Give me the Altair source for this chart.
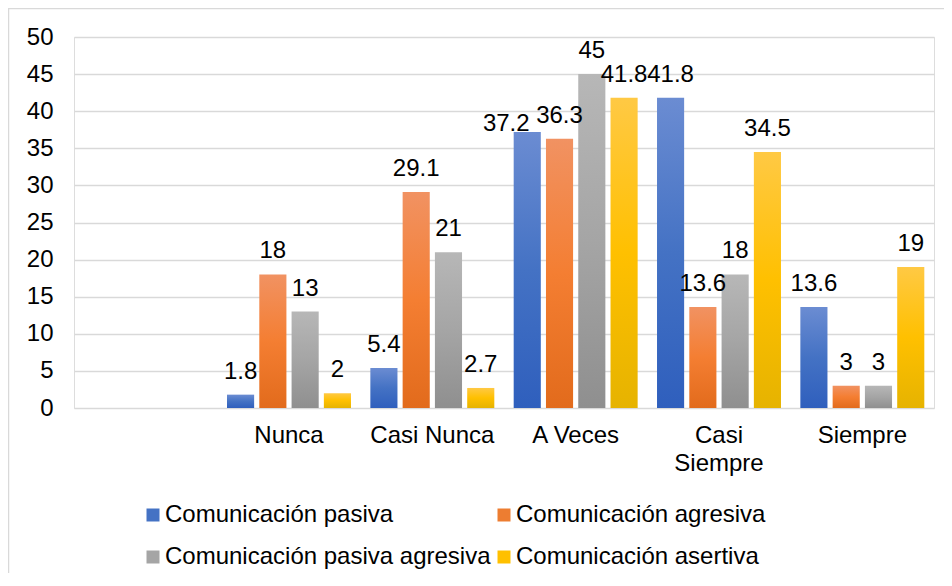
import altair as alt
import pandas as pd

categories = [" ", "Nunca", "Casi Nunca", "A Veces", "Casi Siempre", "Siempre"]
series = ["Comunicación pasiva", "Comunicación agresiva",
          "Comunicación pasiva agresiva", "Comunicación asertiva"]
pasiva = [1.8, 5.4, 37.2, 41.8, 13.6]
agresiva = [18, 29.1, 36.3, 13.6, 3]
pasiva_agresiva = [13, 21, 45, 18, 3]
asertiva = [2, 2.7, 41.8, 34.5, 19]

values = [pasiva, agresiva, pasiva_agresiva, asertiva]
rows = []
for s, vals in zip(series, values):
    for c, v in zip(categories[1:], vals):
        rows.append({"cat": c, "serie": s, "valor": v, "lab": f"{v:g}"})
df = pd.DataFrame(rows)

solid = ["#4472c4", "#ed7d31", "#a5a5a5", "#ffc000"]
grads = [
    ("#6b8cd2", "#4472c4", "#2f5fbd"),
    ("#f19262", "#f47e32", "#e26b1c"),
    ("#b7b7b7", "#a5a5a5", "#8f8f8f"),
    ("#ffc944", "#ffc000", "#e6b300"),
]

FONT = "Liberation Sans"
FS = 24

x_enc = alt.X("cat:N", scale=alt.Scale(domain=categories, paddingInner=0, paddingOuter=0),
              sort=categories, title=None,
              axis=alt.Axis(labelFontSize=FS, labelFont=FONT, labelColor="black",
                            labelAngle=0, ticks=False, domain=False, labelPadding=15,
                            labelLineHeight=28,
                            labelExpr="datum.label == 'Casi Siempre' ? ['Casi', 'Siempre'] : datum.label"))
xo_enc = alt.XOffset("serie:N", scale=alt.Scale(domain=series, paddingInner=0.16, paddingOuter=0.3))
y_enc = alt.Y("valor:Q", scale=alt.Scale(domain=[0, 50], nice=False), title=None,
              axis=alt.Axis(values=list(range(0, 51, 5)), labelFontSize=FS, labelFont=FONT,
                            labelColor="black", ticks=False, domain=False, labelPadding=21,
                            gridColor="#d9d9d9", gridWidth=1.5))

base = alt.Chart(df).encode(x=x_enc, xOffset=xo_enc, y=y_enc)

layers = []
for s, g in zip(series, grads):
    grad = alt.LinearGradient(
        gradient="linear", x1=0, x2=0, y1=0, y2=1,
        stops=[alt.GradientStop(color=g[0], offset=0),
               alt.GradientStop(color=g[1], offset=0.5),
               alt.GradientStop(color=g[2], offset=1)])
    layers.append(base.transform_filter(alt.datum.serie == s).mark_bar(color=grad))

# label of "A Veces / pasiva" is nudged left and down (as in the reference) to avoid overlap
moved = (alt.datum.cat == "A Veces") & (alt.datum.serie == series[0])
text = base.transform_filter(~moved).mark_text(
    baseline="alphabetic", dy=-16, fontSize=FS, font=FONT, color="black").encode(text="lab:N")
text_moved = base.transform_filter(moved).mark_text(
    baseline="alphabetic", dx=-21, dy=-1, fontSize=FS, font=FONT, color="black").encode(text="lab:N")

legend_layer = base.mark_point(shape="square", filled=True, opacity=0).encode(
    color=alt.Color("serie:N", scale=alt.Scale(domain=series, range=solid), title=None,
                    legend=alt.Legend(orient="none", legendX=67, legendY=466, columns=2,
                                      direction="horizontal",
                                      symbolType="square", symbolSize=169, symbolOpacity=1,
                                      symbolStrokeWidth=0,
                                      labelFontSize=FS, labelFont=FONT, labelColor="black",
                                      labelOffset=0, columnPadding=1, rowPadding=18,
                                      labelLimit=500)))

frame = alt.Chart(pd.DataFrame({"a": [0]})).mark_rect(
    fillOpacity=0, stroke="#d9d9d9", strokeWidth=1.5).encode(
    x=alt.value(-65.5), x2=alt.value(920), y=alt.value(-28.5), y2=alt.value(580))

chart = alt.layer(frame, *layers, text, text_moved, legend_layer).properties(
    width=860, height=371,
    autosize=alt.AutoSizeParams(type="none"),
    padding={"left": 66, "top": 29, "right": 10, "bottom": 165},
).configure_view(stroke=None).configure(background="white")

chart.save("out.html", embed_options={"renderer": "svg", "actions": False})
